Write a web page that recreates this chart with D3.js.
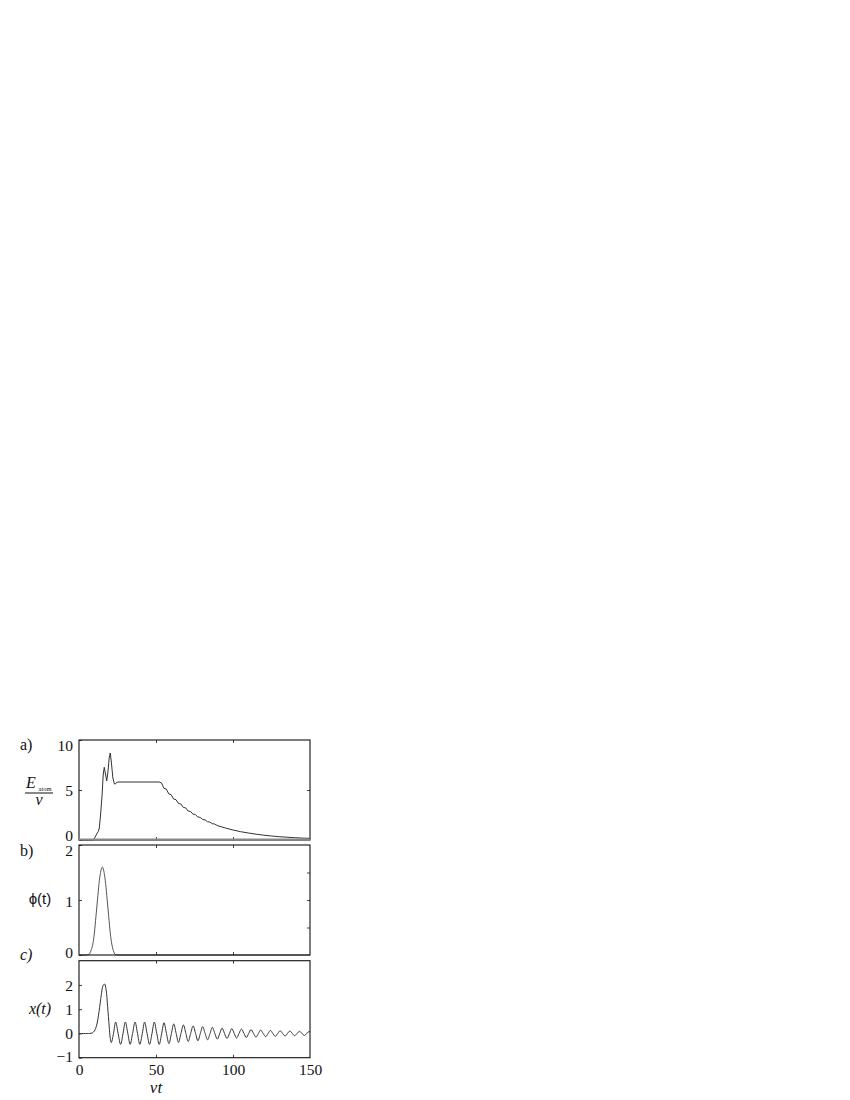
<!DOCTYPE html>
<html><head><meta charset="utf-8">
<script src="https://cdn.jsdelivr.net/npm/d3@7"></script>
<style>
body{margin:0;background:#fff}
svg text{font-family:"Liberation Serif","DejaVu Serif","Times New Roman",serif;}
svg text.sans{font-family:"Liberation Sans","DejaVu Sans",Arial,sans-serif;}
</style>
</head><body>
<svg id="c" width="850" height="1100"></svg>
<script>
// ---------- data ----------
const tA = [0, 9.3, 10.5, 11.5, 12.5, 13.2, 14, 15, 15.7, 16.4, 17.2, 18, 18.8, 19.6, 20.3, 21, 22, 23, 23.6, 24.5, 26, 52,
  53.57, 55.14, 56.71, 58.28, 59.85, 61.42, 62.99, 64.57, 66.14, 67.71, 69.28, 70.85, 72.42, 73.99, 75.56, 77.13, 78.7,
  80.27, 81.84, 83.42, 84.99, 86.56, 88.13, 89.7, 95, 100, 105, 110, 115, 120, 125, 130, 135, 140, 145, 150];
const eA = [0, 0, 0.3, 0.6, 0.85, 1.2, 2.5, 4.5, 6.5, 7.27, 6.6, 5.9, 6.8, 8.2, 8.7, 7.8, 6.2, 5.6, 5.6, 5.77, 5.8, 5.8,
  5.71, 5.17, 5.09, 4.61, 4.53, 4.10, 4.03, 3.66, 3.60, 3.26, 3.21, 2.90, 2.85, 2.59, 2.55, 2.30, 2.26,
  2.05, 2.02, 1.83, 1.80, 1.63, 1.60, 1.45, 1.2, 1.0, 0.83, 0.70, 0.58, 0.48, 0.40, 0.33, 0.28, 0.23, 0.19, 0.16];

const tB = [0, 5, 6.5, 8, 9, 10, 11, 12, 13, 14, 15.15, 16.3, 17.3, 18.3, 19.3, 20.3, 21.3, 22.3, 23.5, 25, 150];
const phiB = [0, 0, 0.01, 0.1, 0.2, 0.4, 0.7, 1.0, 1.3, 1.5, 1.6, 1.5, 1.3, 1.0, 0.7, 0.4, 0.2, 0.08, 0.01, 0, 0];

const tC = [0, 7, 8.5, 10, 11.5, 13, 14.5, 15.5, 16.6, 17.6, 18.6, 19.6, 20.3, 21, 22.4, 23.8,
  25.4, 27.0, 28.6, 30.1, 31.7, 33.2, 34.8, 36.4, 38.0, 39.5, 41.1, 42.6, 44.2, 45.8, 47.4, 48.9, 50.5, 52.1,
  53.7, 55.2, 56.8, 58.4, 60.0, 61.5, 63.1, 64.6, 66.2, 67.8, 69.4, 70.9, 72.5, 74.1, 75.7, 77.2, 78.8, 80.3,
  81.9, 83.5, 85.1, 86.6, 88.2, 89.8, 91.4, 92.9, 94.5, 96.1, 97.7, 99.2, 100.8, 102.3, 103.9, 105.5, 107.1,
  108.6, 110.2, 111.7, 113.3, 114.9, 116.5, 118.0, 119.6, 121.2, 122.8, 124.3, 125.9, 127.5, 129.1, 130.6,
  132.2, 133.8, 135.4, 136.9, 138.5, 140.0, 141.6, 143.2, 144.8, 146.3, 147.9, 149.4, 150];
const xC = [0, 0, 0.02, 0.1, 0.35, 0.9, 1.6, 1.95, 2.04, 1.8, 1.1, 0.3, -0.2, -0.38, 0, 0.47,
  0, -0.45, 0, 0.47, 0, -0.45, 0, 0.47, 0, -0.45, 0, 0.47, 0, -0.45, 0, 0.47, 0, -0.45,
  0, 0.44, 0, -0.42, 0, 0.39, 0, -0.37, 0, 0.35, 0, -0.33, 0, 0.31, 0, -0.30, 0, 0.28,
  0, -0.26, 0, 0.25, 0, -0.235, 0, 0.22, 0, -0.21, 0, 0.20, 0, -0.19, 0, 0.18, 0,
  -0.17, 0, 0.16, 0, -0.15, 0, 0.14, 0, -0.13, 0, 0.125, 0, -0.12, 0, 0.11,
  0, -0.105, 0, 0.10, 0, -0.094, 0, 0.088, 0, -0.084, 0, 0.079, 0.07];

const xTicks = [0, 50, 100, 150];
const yTicksA = [0, 5, 10];
const yTicksB = [0, 1, 2];
const yMinorB = [0.5, 1, 1.5];
const yTicksC = [-1, 0, 1, 2];

// ---------- layout ----------
const svg = d3.select("#c");
const X0 = 79, X1 = 310;
const x = d3.scaleLinear().domain([0, 150]).range([X0, X1]);
const yA = d3.scaleLinear().domain([0, 10]).range([840, 740]);
const yB = d3.scaleLinear().domain([0, 2]).range([955, 845]);
const yC = d3.scaleLinear().domain([-1, 3]).range([1057.7, 960.7]);

function panel(y, yTicks, rightTicks, t, v, curve, color, labelDy) {
  const g = svg.append("g");
  const [yb, yt] = y.range();
  g.append("path")
    .datum(t.map((d, i) => [d, v[i]]))
    .attr("fill", "none").attr("stroke", color).attr("stroke-width", 1)
    .attr("d", d3.line().x(d => x(d[0])).y(d => y(d[1])).curve(curve));
  const la = g.append("g").attr("transform", `translate(${X0},0)`)
    .call(d3.axisLeft(y).tickValues(yTicks).tickSizeInner(-3).tickSizeOuter(0).tickPadding(6)
      .tickFormat(d => d < 0 ? "\u22121" : d));
  la.attr("font-family", null).attr("font-size", null);
  la.select(".domain").remove();
  la.selectAll("line").attr("stroke", "#444");
  la.selectAll("text").style("font-size", "15.5px").attr("fill", "#111")
    .attr("dy", (d, i) => labelDy[i]);
  const ra = g.append("g").attr("transform", `translate(${X1},0)`)
    .call(d3.axisRight(y).tickValues(rightTicks).tickSizeInner(-3).tickSizeOuter(0).tickFormat(""));
  ra.select(".domain").remove();
  ra.selectAll("line").attr("stroke", "#444");
  const ta = g.append("g").attr("transform", `translate(0,${yt})`)
    .call(d3.axisTop(x).tickValues([50, 100]).tickSizeInner(-3).tickSizeOuter(0).tickFormat(""));
  ta.select(".domain").remove();
  ta.selectAll("line").attr("stroke", "#444");
  const ba = g.append("g").attr("transform", `translate(0,${yb})`)
    .call(d3.axisBottom(x).tickValues([50, 100]).tickSizeInner(-3).tickSizeOuter(0).tickFormat(""));
  ba.select(".domain").remove();
  ba.selectAll("line").attr("stroke", "#444");
  g.append("rect").attr("x", X0).attr("y", yt).attr("width", X1 - X0).attr("height", yb - yt)
    .attr("fill", "none").attr("stroke", "#111").attr("stroke-width", 1.1);
  return g;
}

const gA = panel(yA, yTicksA, [5], tA, eA, d3.curveLinear, "#333", [0, 5.5, 10]);
gA.append("line").attr("x1", X0).attr("x2", X1).attr("y1", yA(0) - 0.5).attr("y2", yA(0) - 0.5)
  .attr("stroke", "#888").attr("stroke-width", 2);
panel(yB, yTicksB, yMinorB, tB, phiB, d3.curveMonotoneX, "#555", [2, 6, 10]);
panel(yC, yTicksC, [], tC, xC, d3.curveCatmullRom.alpha(0.5), "#333", [4, 5.5, 5.5, 5.5]);

const xa = svg.append("g").attr("transform", `translate(0,${yC.range()[0]})`)
  .call(d3.axisBottom(x).tickValues(xTicks).tickSize(0).tickPadding(6));
xa.attr("font-family", null).attr("font-size", null);
xa.select(".domain").remove();
xa.selectAll("text").style("font-size", "15.5px").attr("fill", "#111");

function label(xp, yp, txt, opts = {}) {
  const t = svg.append("text").attr("x", xp).attr("y", yp).text(txt)
    .style("font-size", (opts.size || 16) + "px").attr("fill", "#111");
  if (opts.italic) t.style("font-style", "italic");
  if (opts.anchor) t.attr("text-anchor", opts.anchor);
  if (opts.cls) t.attr("class", opts.cls);
  return t;
}

label(x(50), 1093, "\u03bdt", {italic: true, anchor: "middle", size: 17});
label(20, 750, "a)");
label(20, 856, "b)");
label(20, 960, "c)", {italic: true});

label(26, 788, "E", {italic: true});
label(38.5, 791, "atom", {size: 6.5});
svg.append("line").attr("x1", 25).attr("x2", 53).attr("y1", 793).attr("y2", 793).attr("stroke", "#111").attr("stroke-width", 1);
label(39, 805, "\u03bd", {italic: true, anchor: "middle"});

label(40, 904, "\u03d5(t)", {anchor: "middle", size: 15, cls: "sans"});
label(40, 1014, "x(t)", {italic: true, anchor: "middle"});
</script>
</body></html>
